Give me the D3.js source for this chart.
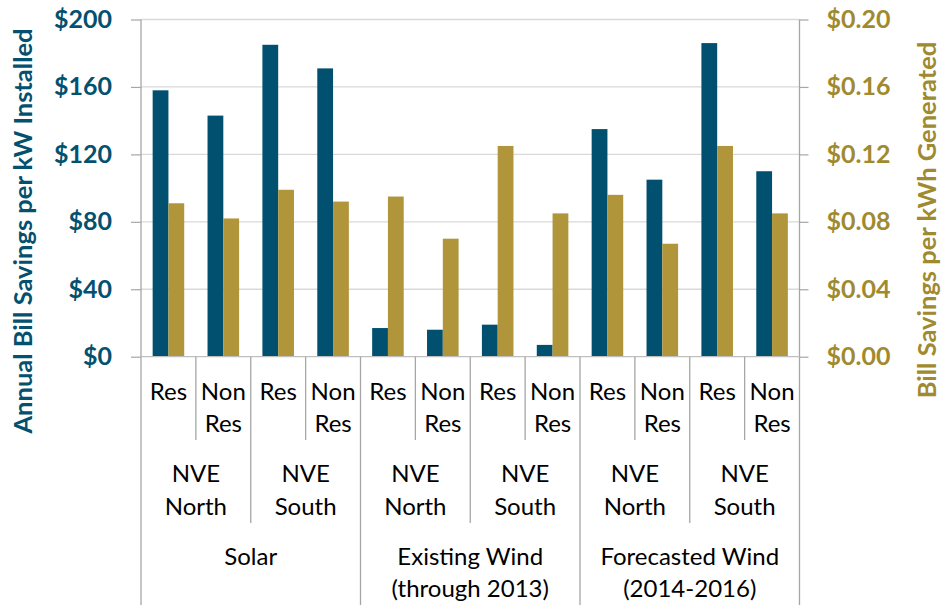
<!DOCTYPE html>
<html>
<head>
<meta charset="utf-8">
<script src="https://cdn.jsdelivr.net/npm/d3@7"></script>
<style>
  html, body { margin: 0; padding: 0; background: #ffffff; }
  svg { display: block; font-family: Lato, "Open Sans", sans-serif; }
</style>
</head>
<body>
<svg id="chart" width="943" height="605"></svg>
<script>
// Bill savings by technology, utility zone and customer class
const technologies = ["Solar", "Existing Wind|(through 2013)", "Forecasted Wind|(2014-2016)"];
const regions = ["NVE|North", "NVE|South"];
const customerClasses = ["Res", "Non|Res"];

// Annual bill savings per kW installed ($), left axis
const savingsPerKW = [158, 143, 185, 171, 17, 16, 19, 7, 135, 105, 186, 110];
// Bill savings per kWh generated ($), right axis
const savingsPerKWh = [0.091, 0.082, 0.099, 0.092, 0.095, 0.070, 0.125, 0.085, 0.096, 0.067, 0.125, 0.085];

const leftTicks = [0, 40, 80, 120, 160, 200];
const rightTicks = [0, 0.04, 0.08, 0.12, 0.16, 0.20];

const leftTitle = "Annual Bill Savings per kW Installed";
const rightTitle = "Bill Savings per kWh Generated";

const BLUE = "#02506f";
const GOLD = "#b0953a";
const BLUE_TEXT = "#03516f";
const GOLD_TEXT = "#a08a30";

// Flattened category list: technology > region > class
const categories = [];
technologies.forEach((t, ti) => regions.forEach((r, ri) => customerClasses.forEach((c, ci) => {
  categories.push({ tech: ti, region: ri, cls: ci, key: `${ti}-${ri}-${ci}` });
})));
const rows = categories.map((c, i) => ({ ...c, kw: savingsPerKW[i], kwh: savingsPerKWh[i] }));

const svg = d3.select("#chart");
const plot = { left: 141, right: 799.5, top: 19.5, bottom: 356.7 };

const x = d3.scaleBand().domain(rows.map(d => d.key)).range([plot.left, plot.right]).padding(0);
const xInner = d3.scaleBand().domain(["kw", "kwh"]).range([0, x.step()]).paddingInner(0).paddingOuter(0.738);
const yL = d3.scaleLinear().domain([0, 200]).range([plot.bottom, plot.top]);
const yR = d3.scaleLinear().domain([0, 0.20]).range([plot.bottom, plot.top]);

// Gridlines
svg.append("g").selectAll("line").data(leftTicks.slice(1)).join("line")
  .attr("x1", plot.left).attr("x2", plot.right)
  .attr("y1", d => yL(d)).attr("y2", d => yL(d))
  .attr("stroke", "#d9d9d9").attr("stroke-width", 1.3);

// Bars
const groups = svg.append("g").selectAll("g").data(rows).join("g")
  .attr("transform", d => `translate(${x(d.key)},0)`);
groups.append("rect")
  .attr("x", xInner("kw")).attr("width", xInner.bandwidth())
  .attr("y", d => yL(d.kw)).attr("height", d => yL(0) - yL(d.kw))
  .attr("fill", BLUE);
groups.append("rect")
  .attr("x", xInner("kwh")).attr("width", xInner.bandwidth())
  .attr("y", d => yR(d.kwh)).attr("height", d => yR(0) - yR(d.kwh))
  .attr("fill", GOLD);

// Left axis
const axL = svg.append("g").attr("transform", `translate(${plot.left},0)`)
  .call(d3.axisLeft(yL).tickValues(leftTicks).tickSize(10).tickPadding(19).tickFormat(d => "$" + d));
axL.select(".domain").remove();
axL.selectAll(".tick line").attr("stroke", "#a6a6a6").attr("stroke-width", 1.2);
axL.selectAll(".tick text").attr("fill", BLUE_TEXT).attr("font-size", 25).attr("font-weight", 700)
  .attr("font-family", "Lato, sans-serif");

// Right axis
const axR = svg.append("g").attr("transform", `translate(${plot.right},0)`)
  .call(d3.axisRight(yR).tickValues(rightTicks).tickSize(9).tickPadding(18).tickFormat(d => "$" + d3.format(".2f")(d)));
axR.select(".domain").remove();
axR.selectAll(".tick line").attr("stroke", "#a6a6a6").attr("stroke-width", 1.2);
axR.selectAll(".tick text").attr("fill", GOLD_TEXT).attr("font-size", 25).attr("font-weight", 700)
  .attr("font-family", "Lato, sans-serif");

// Vertical axis lines running through the category table
const lineColor = "#a6a6a6";
svg.append("line").attr("x1", plot.left).attr("x2", plot.left).attr("y1", plot.top).attr("y2", 605)
  .attr("stroke", lineColor).attr("stroke-width", 1.3);
svg.append("line").attr("x1", plot.right).attr("x2", plot.right).attr("y1", plot.top).attr("y2", 605)
  .attr("stroke", lineColor).attr("stroke-width", 1.3);
// Horizontal baseline
svg.append("line").attr("x1", plot.left).attr("x2", plot.right).attr("y1", plot.bottom).attr("y2", plot.bottom)
  .attr("stroke", "#bfbfbf").attr("stroke-width", 1.3);

// Category separators: depth depends on which level changes
const sepBottom = [440, 523, 605];
const seps = rows.slice(1).map((d, i) => {
  const prev = rows[i];
  const level = prev.tech !== d.tech ? 2 : (prev.region !== d.region ? 1 : 0);
  return { x: x(d.key), y2: sepBottom[level] };
});
svg.append("g").selectAll("line").data(seps).join("line")
  .attr("x1", d => d.x).attr("x2", d => d.x)
  .attr("y1", plot.bottom).attr("y2", d => d.y2)
  .attr("stroke", lineColor).attr("stroke-width", 1.3);

// Multi-line label helper
function multiLabel(g, text, cx, baselines) {
  const t = g.append("text").attr("text-anchor", "middle").attr("font-size", 24).attr("fill", "#000");
  text.split("|").forEach((line, i) => {
    t.append("tspan").attr("x", cx).attr("y", baselines[i]).text(line);
  });
}
const labels = svg.append("g");
// Level 1: customer class
rows.forEach(d => {
  multiLabel(labels, customerClasses[d.cls], x(d.key) + x.bandwidth() / 2, [400, 432]);
});
// Level 2: region
technologies.forEach((t, ti) => regions.forEach((r, ri) => {
  const first = rows.find(d => d.tech === ti && d.region === ri);
  const cx = x(first.key) + x.step();
  multiLabel(labels, r, cx, [482, 515]);
}));
// Level 3: technology
technologies.forEach((t, ti) => {
  const first = rows.find(d => d.tech === ti);
  const cx = x(first.key) + x.step() * 2;
  multiLabel(labels, t, cx, [565, 597]);
});

// Axis titles
svg.append("text")
  .attr("transform", `translate(32,231) rotate(-90)`)
  .attr("text-anchor", "middle").attr("font-size", 25.5).attr("font-weight", 700)
  .attr("fill", BLUE_TEXT).text(leftTitle);
svg.append("text")
  .attr("transform", `translate(936,220) rotate(-90)`)
  .attr("text-anchor", "middle").attr("font-size", 25.5).attr("font-weight", 700)
  .attr("fill", GOLD_TEXT).text(rightTitle);
</script>
</body>
</html>
